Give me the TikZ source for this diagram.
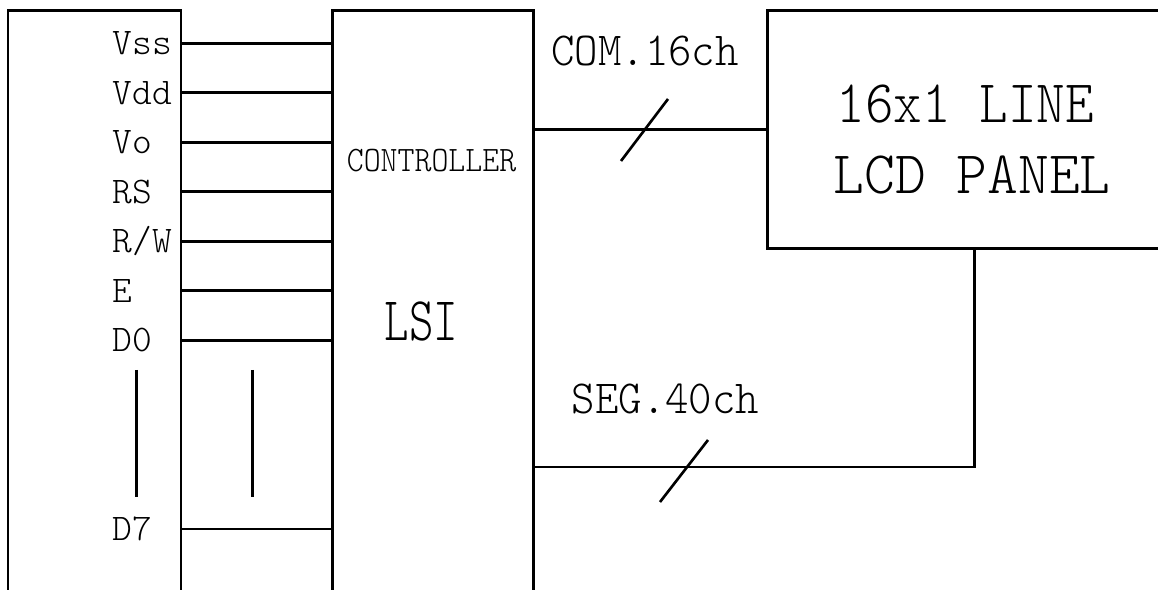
\documentclass[tikz,border=0pt]{standalone}
\tikzset{box/.style = {draw, line width=.85pt, inner sep=0pt, outer sep=0pt, anchor=north west},
         wire/.style = {line width=.85pt},
         busmark/.style = {line width=.75pt},
         pinlbl/.style = {font=\fontsize{10.7}{12}\fontseries{l}\ttfamily\selectfont, anchor=west,
                          inner sep=0pt, text height=6.5pt, text depth=0pt},
         buslbl/.style = {font=\fontsize{13.5}{16}\fontseries{l}\ttfamily\selectfont, anchor=base,
                          inner sep=0pt, xscale=.94}}

\begin{document}
\begin{tikzpicture}
      \useasboundingbox (0,0) rectangle (11.58,-5.90);
      \clip (0,0) rectangle (11.58,-5.90);
      % blocks
      \node [box, minimum width=1.73cm, minimum height=7cm] (mcu) at (0.08,-0.11) {};
      \node [box, minimum width=2.01cm, minimum height=7cm] (lsi) at (3.32,-0.11) {};
      \node [box, minimum width=4.14cm, minimum height=2.38cm] (lcd) at (7.67,-0.11) {};
      % pins
      \node [pinlbl] (vss) at (1.12,-0.433) {Vss};
      \node [pinlbl] (vdd) at (1.12,-0.928) {Vdd};
      \node [pinlbl] (vo) at (1.12,-1.423) {Vo};
      \node [pinlbl] (rs) at (1.12,-1.918) {RS};
      \node [pinlbl] (rw) at (1.12,-2.413) {R/W};
      \node [pinlbl] (en) at (1.12,-2.908) {E};
      \node [pinlbl] (dzero) at (1.12,-3.403) {D0};
      \node [pinlbl] (dseven) at (1.12,-5.29) {D7};
      \draw [wire] (mcu.east |- vss) -- (lsi.west |- vss);
      \draw [wire] (mcu.east |- vdd) -- (lsi.west |- vdd);
      \draw [wire] (mcu.east |- vo) -- (lsi.west |- vo);
      \draw [wire] (mcu.east |- rs) -- (lsi.west |- rs);
      \draw [wire] (mcu.east |- rw) -- (lsi.west |- rw);
      \draw [wire] (mcu.east |- en) -- (lsi.west |- en);
      \draw [wire] (mcu.east |- dzero) -- (lsi.west |- dzero);
      \draw [wire] (mcu.east |- dseven) -- (lsi.west |- dseven);
      \draw [busmark] (1.364,-3.70) -- (1.364,-4.97);
      \draw [busmark] (2.525,-3.70) -- (2.525,-4.97);
      % controller
      \node [font=\fontsize{10.2}{12}\fontseries{l}\ttfamily\selectfont, anchor=base, inner sep=0pt, xscale=.9] (ctrl) at (4.315,-1.72) {CONTROLLER};
      \node [font=\fontsize{17.7}{20}\fontseries{l}\ttfamily\selectfont, anchor=base, inner sep=0pt, xscale=.75] (lsitxt) at (4.215,-3.41) {LSI};
      % panel
      \node [font=\fontsize{17.2}{20}\fontseries{l}\ttfamily\selectfont, anchor=base west, inner sep=0pt, xscale=.9] (lineone) at (8.36,-1.23) {16x1 LINE};
      \node [font=\fontsize{17.2}{20}\fontseries{l}\ttfamily\selectfont, anchor=base west, inner sep=0pt, xscale=.97] (linetwo) at (8.33,-1.94) {LCD PANEL};
      % buses
      \node [buslbl] (comtxt) at (6.45,-0.66) {COM.16ch};
      \node [buslbl] (segtxt) at (6.655,-4.14) {SEG.40ch};
      \coordinate (segin) at (5.33,-4.67);
      \draw [wire] (lsi.east |- lcd.west) -- (lcd.west);
      \draw [wire] (lcd.south) |- (segin);
      \draw [busmark] (6.21,-1.61) -- (6.68,-0.99);
      \draw [busmark] (6.60,-5.02) -- (7.08,-4.40);
\end{tikzpicture}
\end{document}
